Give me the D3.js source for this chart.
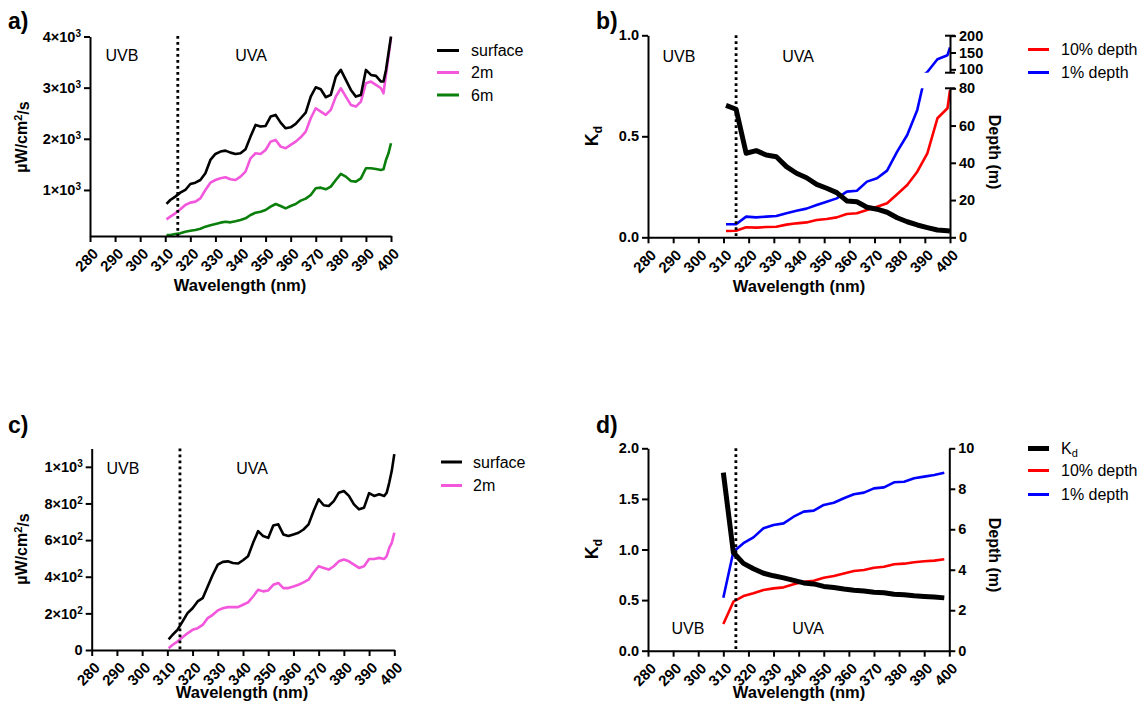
<!DOCTYPE html>
<html>
<head>
<meta charset="utf-8">
<script src="https://cdn.jsdelivr.net/npm/d3@7"></script>
<style>
  body { margin: 0; background: #fff; }
  svg text { font-family: "Liberation Sans", Arial, Helvetica, sans-serif; fill: #000; }
</style>
</head>
<body>
<svg id="chart" width="1147" height="711"></svg>
<script>
// ---------- shared axis values ----------
const xTicks = [280, 290, 300, 310, 320, 330, 340, 350, 360, 370, 380, 390, 400];
const bandEdge = 315; // UVB / UVA boundary (nm)

// ---------- spectra (panels a and c) ----------
const wlSpec = [310.5, 312, 314, 316, 318, 320, 322, 324, 326, 328, 330, 332, 334, 336, 338, 340,
  342, 344, 346, 348, 350, 352, 354, 356, 358, 360, 362, 364, 366, 368, 370, 372, 374, 376, 378,
  380, 382, 384, 386, 388, 390, 392, 394, 396, 397, 398, 399, 400];

// panel a: irradiance, µW/cm²/s
const aSurface = [726, 804, 870, 948, 1000, 1117, 1143, 1195, 1326, 1587, 1704, 1750, 1769, 1730, 1704, 1717,
  1795, 2043, 2271, 2239, 2252, 2434, 2467, 2317, 2206, 2225, 2291, 2402, 2512, 2825, 3008, 2969, 2812, 2858, 3216,
  3347, 3151, 2956, 2825, 2858, 3347, 3249, 3230, 3119, 3119, 3347, 3673, 4000];
const a2m = [426, 478, 543, 622, 706, 752, 772, 837, 1000, 1143, 1195, 1228, 1248, 1208, 1195, 1261,
  1358, 1619, 1717, 1704, 1782, 1945, 1978, 1847, 1815, 1880, 1945, 2030, 2141, 2402, 2597, 2532, 2467, 2565, 2825,
  2988, 2825, 2662, 2630, 2727, 3086, 3119, 3053, 2988, 2890, 3249, 3608, 3980];
const a6m = [120, 120, 139, 152, 185, 204, 217, 243, 283, 309, 335, 361, 380, 367, 387, 413,
  446, 511, 556, 576, 609, 674, 726, 687, 641, 687, 726, 791, 830, 902, 1032, 1045, 1013, 1065, 1195,
  1313, 1261, 1176, 1163, 1228, 1424, 1424, 1411, 1391, 1404, 1587, 1717, 1913];
const aYTicks = [1000, 2000, 3000, 4000];
const aYLabels = [["1\u00d710", "3"], ["2\u00d710", "3"], ["3\u00d710", "3"], ["4\u00d710", "3"]];

// panel c: irradiance, µW/cm²/s
const cSurface = [58, 82, 110, 155, 201, 228, 265, 283, 347, 411, 466, 481, 484, 475, 472, 490,
  512, 585, 649, 622, 612, 680, 686, 631, 622, 631, 640, 658, 686, 759, 823, 790, 786, 813, 859,
  868, 841, 795, 768, 777, 856, 841, 850, 841, 859, 914, 978, 1069];
const c2m = [9, 27, 46, 69, 91, 110, 119, 137, 174, 192, 216, 228, 234, 234, 234, 247,
  260, 292, 329, 320, 325, 356, 366, 338, 338, 347, 356, 369, 384, 424, 457, 448, 439, 457, 484,
  494, 484, 466, 448, 457, 497, 497, 503, 497, 512, 558, 585, 640];
const cYTicks = [0, 200, 400, 600, 800, 1000];
const cYLabels = [["0", ""], ["2\u00d710", "2"], ["4\u00d710", "2"], ["6\u00d710", "2"], ["8\u00d710", "2"], ["1\u00d710", "3"]];

// ---------- attenuation (panel b) ----------
const wlB = [311, 315, 319, 323, 327, 331, 335, 339, 343, 347, 351, 355, 359, 363, 367, 371, 375,
  379, 383, 387, 391, 395, 399, 400];
const bKd = [0.653, 0.634, 0.416, 0.429, 0.407, 0.399, 0.35, 0.317, 0.295, 0.262, 0.243, 0.221, 0.18,
  0.176, 0.149, 0.139, 0.124, 0.097, 0.077, 0.061, 0.048, 0.036, 0.033, 0.03];
const bDepth10 = [3.4, 3.5, 5.4, 5.2, 5.5, 5.7, 6.8, 7.5, 8.0, 9.3, 9.8, 10.7, 12.5, 12.9, 14.7, 16.4,
  18.3, 23.1, 28.1, 35.2, 45.1, 63.9, 69.3, 79];
const bDepth1 = [7.0, 7.0, 11.1, 10.7, 11.1, 11.4, 12.9, 14.3, 15.4, 17.3, 19.1, 20.9, 24.5, 25.0, 29.9,
  31.7, 35.8, 46.0, 54.9, 68.4, 92, 130, 142, 165];
const bKdTicks = [0, 0.5, 1.0];
const bDepthLowTicks = [0, 20, 40, 60, 80];
const bDepthHighTicks = [100, 150, 200];

// ---------- attenuation (panel d) ----------
const wlD = [310, 314, 318, 322, 326, 330, 334, 338, 342, 346, 350, 354, 358, 362, 366, 370, 374,
  378, 382, 386, 390, 394, 398];
const dKd = [1.76, 0.97, 0.863, 0.81, 0.765, 0.74, 0.72, 0.695, 0.67, 0.66, 0.635, 0.625, 0.61, 0.598,
  0.59, 0.578, 0.572, 0.558, 0.552, 0.542, 0.535, 0.53, 0.522];
const dDepth10 = [1.32, 2.42, 2.7, 2.84, 3.0, 3.08, 3.13, 3.28, 3.41, 3.46, 3.6, 3.69, 3.82, 3.94, 3.99,
  4.1, 4.15, 4.27, 4.3, 4.37, 4.42, 4.45, 4.52];
const dDepth1 = [2.62, 4.89, 5.31, 5.6, 6.05, 6.21, 6.29, 6.62, 6.87, 6.92, 7.2, 7.31, 7.53, 7.73, 7.81,
  8.02, 8.07, 8.32, 8.35, 8.52, 8.6, 8.68, 8.79];
const dKdTicks = [0, 0.5, 1.0, 1.5, 2.0];
const dDepthTicks = [0, 2, 4, 6, 8, 10];

// ---------- colours ----------
const C = { surface: "#000000", m2: "#f257dc", m6: "#0b7f0b", red: "#ff0000", blue: "#0000ff", kd: "#000000" };

const svg = d3.select("#chart");
const Y_TICK_FONT = "bold 14.5px 'Liberation Sans', Arial, sans-serif";
const X_TICK_FONT = "bold 15px 'Liberation Sans', Arial, sans-serif";

function styleAxis(g) {
  g.select(".domain").attr("stroke", "#000").attr("stroke-width", 2);
  g.selectAll(".tick line").attr("stroke", "#000").attr("stroke-width", 2);
  g.selectAll(".tick text").style("font", Y_TICK_FONT).attr("fill", "#000");
}

function xAxis(x, y0) {
  const g = svg.append("g").attr("transform", `translate(0,${y0})`)
    .call(d3.axisBottom(x).tickValues(xTicks).tickSize(6).tickSizeOuter(0).tickFormat(d3.format("d")));
  styleAxis(g);
  g.selectAll(".tick text")
    .style("font", X_TICK_FONT)
    .attr("text-anchor", "end")
    .attr("x", 0).attr("y", 0).attr("dy", "0.35em")
    .attr("transform", "translate(5,15) rotate(-45)");
  return g;
}

function yAxisLeft(y, x0, ticks, fmt) {
  const g = svg.append("g").attr("transform", `translate(${x0},0)`)
    .call(d3.axisLeft(y).tickValues(ticks).tickSize(6).tickSizeOuter(0).tickFormat(fmt || null));
  styleAxis(g);
  return g;
}

function superLabels(g, labels) {
  g.selectAll(".tick text").each(function (d, i) {
    const t = d3.select(this).text(null);
    t.append("tspan").text(labels[i][0]);
    if (labels[i][1]) t.append("tspan").attr("dy", "-0.5em").style("font-size", "10px").text(labels[i][1]);
  });
}

function xTitle(cx, y) {
  svg.append("text").attr("x", cx).attr("y", y).attr("text-anchor", "middle")
    .style("font", "bold 16.5px 'Liberation Sans', Arial, sans-serif").text("Wavelength (nm)");
}

function panelLetter(x, y, s) {
  svg.append("text").attr("x", x).attr("y", y)
    .style("font", "bold 23px 'Liberation Sans', Arial, sans-serif").text(s);
}

function bandLabels(x, yText, yTop, yBot, ub, ua) {
  svg.append("line").attr("x1", x(bandEdge)).attr("x2", x(bandEdge)).attr("y1", yTop).attr("y2", yBot)
    .attr("stroke", "#000").attr("stroke-width", 2.8).attr("stroke-dasharray", "2.8,3.2");
  svg.append("text").attr("x", ub).attr("y", yText).attr("text-anchor", "middle")
    .style("font", "16px 'Liberation Sans', Arial, sans-serif").text("UVB");
  svg.append("text").attr("x", ua).attr("y", yText).attr("text-anchor", "middle")
    .style("font", "16px 'Liberation Sans', Arial, sans-serif").text("UVA");
}

function drawLine(xs, ys, x, y, color, w, clip) {
  const p = svg.append("path")
    .datum(xs.map((v, i) => [v, ys[i]]))
    .attr("fill", "none").attr("stroke", color).attr("stroke-width", w)
    .attr("stroke-linejoin", "round").attr("stroke-linecap", "butt")
    .attr("d", d3.line().x(d => x(d[0])).y(d => y(d[1])));
  if (clip) p.attr("clip-path", `url(#${clip})`);
}

function legend(x0, x1, tx, rows) {
  rows.forEach(r => {
    svg.append("line").attr("x1", x0).attr("x2", x1).attr("y1", r.y).attr("y2", r.y)
      .attr("stroke", r.color).attr("stroke-width", r.w || 3);
    const t = svg.append("text").attr("x", tx).attr("y", r.y).attr("dy", "0.35em")
      .style("font", "16px 'Liberation Sans', Arial, sans-serif");
    if (r.sub) {
      t.append("tspan").text(r.label);
      t.append("tspan").attr("dy", "0.3em").style("font-size", "11px").text(r.sub);
    } else t.text(r.label);
  });
}

function irradianceTitle(cx, cy) {
  const t = svg.append("text").attr("transform", `translate(${cx},${cy}) rotate(-90)`)
    .attr("text-anchor", "middle").style("font", "bold 16px 'Liberation Sans', Arial, sans-serif");
  t.append("tspan").text("\u00b5W/cm");
  t.append("tspan").attr("dy", "-0.45em").style("font-size", "11px").text("2");
  t.append("tspan").attr("dy", "0.45em").text("/s");
}

function kdTitle(cx, cy) {
  const t = svg.append("text").attr("transform", `translate(${cx},${cy}) rotate(-90)`)
    .attr("text-anchor", "middle").style("font", "bold 18px 'Liberation Sans', Arial, sans-serif");
  t.append("tspan").text("K");
  t.append("tspan").attr("dy", "0.3em").style("font-size", "12px").text("d");
}

function depthTitle(cx, cy) {
  svg.append("text").attr("transform", `translate(${cx},${cy}) rotate(90)`)
    .attr("text-anchor", "middle").style("font", "bold 16px 'Liberation Sans', Arial, sans-serif")
    .text("Depth (m)");
}

// ================= panel a =================
{
  const x = d3.scaleLinear().domain([280, 400]).range([90, 391]);
  const y = d3.scaleLinear().domain([100, 4000]).range([236, 36.5]);
  drawLine(wlSpec, a6m, x, y, C.m6, 2.6);
  drawLine(wlSpec, a2m, x, y, C.m2, 2.6);
  drawLine(wlSpec, aSurface, x, y, C.surface, 2.6);
  bandLabels(x, 61, 36, 236, 122, 251);
  xAxis(x, 236);
  superLabels(yAxisLeft(y, 90, aYTicks), aYLabels);
  xTitle(240, 291);
  irradianceTitle(27, 137);
  panelLetter(8, 29, "a)");
  legend(437, 459, 471, [
    { y: 50.5, color: C.surface, label: "surface" },
    { y: 72.5, color: C.m2, label: "2m" },
    { y: 95, color: C.m6, label: "6m" }
  ]);
}

// ================= panel c =================
{
  const x = d3.scaleLinear().domain([280, 400]).range([91.7, 394.3]);
  const y = d3.scaleLinear().domain([0, 1100]).range([650, 448.5]);
  drawLine(wlSpec, c2m, x, y, C.m2, 2.6);
  drawLine(wlSpec, cSurface, x, y, C.surface, 2.6);
  bandLabels(x, 474, 448.5, 650, 123, 252);
  xAxis(x, 650);
  superLabels(yAxisLeft(y, 91.7, cYTicks), cYLabels);
  xTitle(242, 698);
  irradianceTitle(27, 549);
  panelLetter(8, 433, "c)");
  legend(441, 462, 473, [
    { y: 462, color: C.surface, label: "surface" },
    { y: 485.5, color: C.m2, label: "2m" }
  ]);
}

// ================= panel b =================
{
  const x = d3.scaleLinear().domain([280, 400]).range([648, 950]);
  const yK = d3.scaleLinear().domain([0, 1]).range([237.3, 35.3]);
  // broken right axis: lower segment 0–80, upper segment 90–200
  const yLo = d3.scaleLinear().domain([0, 80]).range([237.3, 88.3]);
  const yHi = d3.scaleLinear().domain([90, 200]).range([72.7, 35.7]);

  const defs = svg.append("defs");
  defs.append("clipPath").attr("id", "clipLo").append("rect")
    .attr("x", 600).attr("y", yLo(80)).attr("width", 400).attr("height", yLo(0) - yLo(80) + 5);
  defs.append("clipPath").attr("id", "clipHi").append("rect")
    .attr("x", 600).attr("y", yHi(200)).attr("width", 400).attr("height", yHi(90) - yHi(200));

  drawLine(wlB, bDepth10, x, yLo, C.red, 2.6, "clipLo");
  drawLine(wlB, bDepth1, x, yLo, C.blue, 2.6, "clipLo");
  drawLine(wlB, bDepth1, x, yHi, C.blue, 2.6, "clipHi");
  drawLine(wlB, bKd, x, yK, C.kd, 5);
  bandLabels(x, 62, 35.3, 237.3, 679, 798);
  xAxis(x, 237.3);
  yAxisLeft(yK, 648, bKdTicks, d3.format(".1f"));

  const gLo = svg.append("g").attr("transform", "translate(950,0)")
    .call(d3.axisRight(yLo).tickValues(bDepthLowTicks).tickSize(6).tickSizeOuter(0).tickFormat(d3.format("d")));
  styleAxis(gLo);
  const gHi = svg.append("g").attr("transform", "translate(950,0)")
    .call(d3.axisRight(yHi).tickValues(bDepthHighTicks).tickSize(6).tickSizeOuter(0).tickFormat(d3.format("d")));
  styleAxis(gHi);
  // break caps at the ends of each segment
  [yLo(80), yHi(90), yHi(200)].forEach(v => {
    svg.append("line").attr("x1", 945).attr("x2", 955).attr("y1", v).attr("y2", v)
      .attr("stroke", "#000").attr("stroke-width", 2);
  });

  xTitle(799, 292);
  kdTitle(598, 136);
  depthTitle(989, 152);
  panelLetter(596, 29, "b)");
  legend(1028, 1049, 1061, [
    { y: 49.5, color: C.red, label: "10% depth" },
    { y: 72.5, color: C.blue, label: "1% depth" }
  ]);
}

// ================= panel d =================
{
  const x = d3.scaleLinear().domain([280, 400]).range([648, 949.3]);
  const yK = d3.scaleLinear().domain([0, 2]).range([650.7, 448.3]);
  const yD = d3.scaleLinear().domain([0, 10]).range([650.7, 448.3]);
  drawLine(wlD, dDepth10, x, yD, C.red, 2.6);
  drawLine(wlD, dDepth1, x, yD, C.blue, 2.6);
  drawLine(wlD, dKd, x, yK, C.kd, 5);
  bandLabels(x, 634, 448.3, 650.7, 688, 808);
  xAxis(x, 650.7);
  yAxisLeft(yK, 648, dKdTicks, d3.format(".1f"));
  const gR = svg.append("g").attr("transform", "translate(949.3,0)")
    .call(d3.axisRight(yD).tickValues(dDepthTicks).tickSize(6).tickSizeOuter(0).tickFormat(d3.format("d")));
  styleAxis(gR);
  xTitle(799, 698);
  kdTitle(598, 549);
  depthTitle(989, 555);
  panelLetter(596, 433, "d)");
  legend(1028, 1049, 1061, [
    { y: 448.5, color: C.kd, label: "K", sub: "d", w: 5 },
    { y: 470.5, color: C.red, label: "10% depth" },
    { y: 494.5, color: C.blue, label: "1% depth" }
  ]);
}
</script>
</body>
</html>
